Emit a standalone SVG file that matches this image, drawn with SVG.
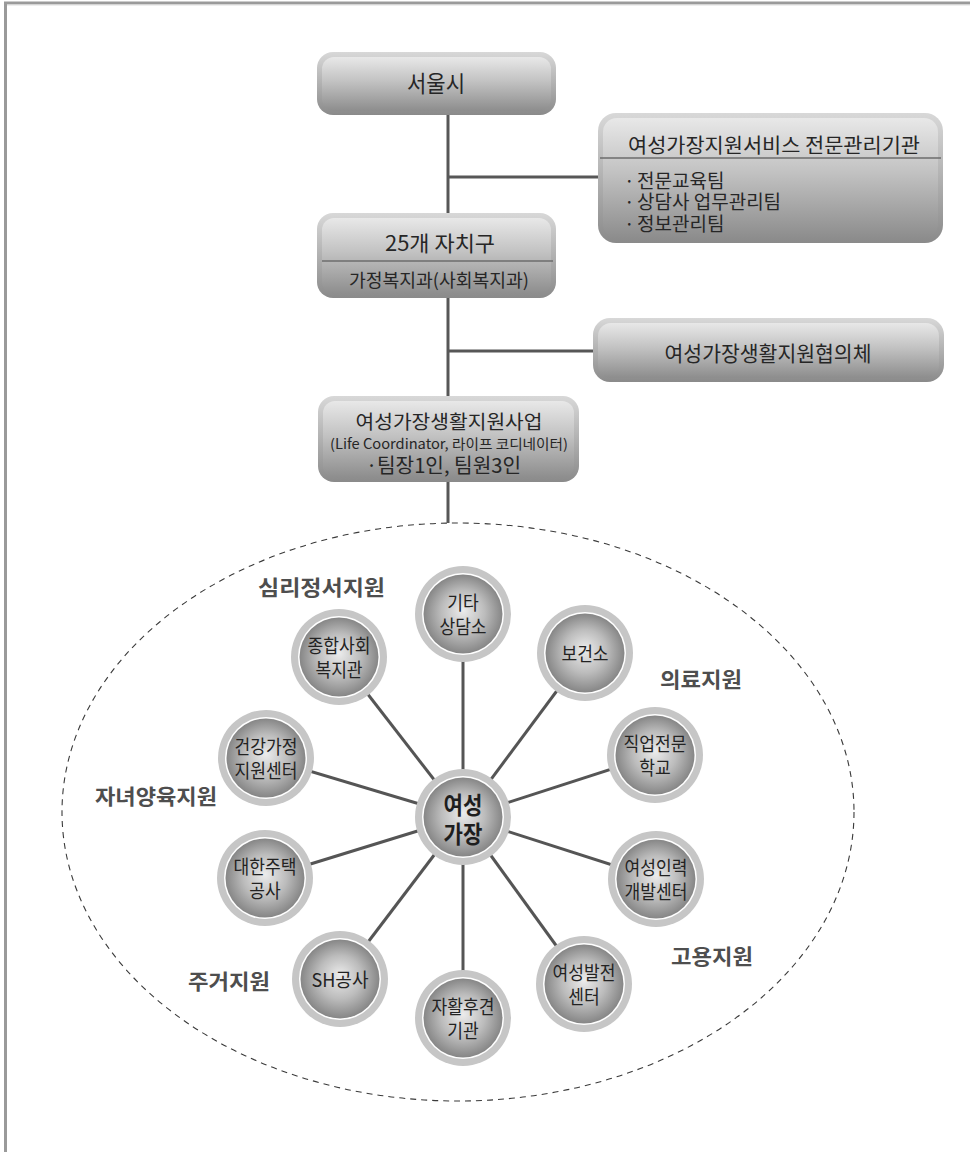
<svg xmlns="http://www.w3.org/2000/svg" xmlns:xlink="http://www.w3.org/1999/xlink" width="970" height="1152" viewBox="0 0 970 1152">
  <style>
    text { font-family: "Noto Sans CJK KR", "Noto Sans", sans-serif; fill: #262626; dominant-baseline: central; }
    .mid { text-anchor: middle; }
    .box-title { font-size: 21px; }
    .box-sub { font-size: 18px; }
    .bullet { font-size: 19px; }
    .node-label { font-size: 19px; text-anchor: middle; fill: #222; }
    .hub-label { font-size: 24px; font-weight: bold; text-anchor: middle; fill: #1e1e1e; }
    .category { font-size: 21px; font-weight: bold; fill: #4e4e4e; }
    .link { stroke: #575757; stroke-width: 3; fill: none; }
    .spoke { stroke: #555; stroke-width: 3; fill: none; }
    .divider { stroke: #6c6c6c; stroke-width: 1.5; }
    .frame { stroke: #9a9a9a; stroke-width: 3; fill: none; }
    .zone { fill: none; stroke: #3a3a3a; stroke-width: 1.1; stroke-dasharray: 6 5; }
  </style>
  <defs>
    <linearGradient id="boxOuter" x1="0" y1="0" x2="0" y2="1">
      <stop offset="0" stop-color="#d8d8d8"/>
      <stop offset="1" stop-color="#8a8a8a"/>
    </linearGradient>
    <linearGradient id="boxInner" x1="0" y1="0" x2="0" y2="1">
      <stop offset="0" stop-color="#e8e8e8"/>
      <stop offset="0.45" stop-color="#c2c2c2"/>
      <stop offset="1" stop-color="#8d8d8d"/>
    </linearGradient>
    <radialGradient id="discGrad" cx="0.5" cy="0.5" r="0.5" fx="0.5" fy="0.45">
      <stop offset="0" stop-color="#ececec"/>
      <stop offset="0.55" stop-color="#bcbcbc"/>
      <stop offset="1" stop-color="#868686"/>
    </radialGradient>
    <g id="disc">
      <circle r="48" fill="#c6c6c6"/>
      <circle r="41" fill="#ffffff"/>
      <circle r="39.5" fill="url(#discGrad)"/>
    </g>
  </defs>

  <!-- page frame: top and left rules only -->
  <path class="frame" d="M5.5 1152 V3 H970"/>
  <line x1="7" y1="5" x2="970" y2="5" stroke="#dddddd" stroke-width="1"/>

  <!-- dashed support zone -->
  <ellipse class="zone" cx="458" cy="812" rx="396" ry="289"/>

  <!-- connectors -->
  <g id="connectors">
    <line class="link" x1="448" y1="112" x2="448" y2="216"/>
    <line class="link" x1="448" y1="295" x2="448" y2="399"/>
    <line class="link" x1="448" y1="479" x2="448" y2="523"/>
    <line class="link" x1="448" y1="177" x2="600" y2="177"/>
    <line class="link" x1="448" y1="351" x2="595" y2="351"/>
    <line class="spoke" x1="463" y1="817" x2="463" y2="614"/>
    <line class="spoke" x1="463" y1="817" x2="585" y2="653"/>
    <line class="spoke" x1="463" y1="817" x2="655" y2="755"/>
    <line class="spoke" x1="463" y1="817" x2="656" y2="879"/>
    <line class="spoke" x1="463" y1="817" x2="584" y2="984"/>
    <line class="spoke" x1="463" y1="817" x2="463" y2="1018"/>
    <line class="spoke" x1="463" y1="817" x2="340" y2="979"/>
    <line class="spoke" x1="463" y1="817" x2="265" y2="878"/>
    <line class="spoke" x1="463" y1="817" x2="266" y2="758"/>
    <line class="spoke" x1="463" y1="817" x2="339" y2="657"/>
  </g>

  <!-- organisation boxes -->
  <g id="seoul">
    <rect x="317" y="52" width="239" height="63" rx="16" fill="url(#boxOuter)"/>
    <rect x="322" y="57" width="229" height="54" rx="12" fill="url(#boxInner)"/>
    <text class="mid" x="436" y="82" font-size="23" textLength="58" lengthAdjust="spacingAndGlyphs">서울시</text>
  </g>

  <g id="agency">
    <rect x="598" y="113" width="345" height="130" rx="18" fill="url(#boxOuter)"/>
    <rect x="603" y="118" width="335" height="120" rx="14" fill="url(#boxInner)"/>
    <text class="mid" x="774" y="144" font-size="20" textLength="292" lengthAdjust="spacingAndGlyphs">여성가장지원서비스 전문관리기관</text>
    <line class="divider" x1="600" y1="158" x2="941" y2="158"/>
    <text class="bullet"><tspan x="624" y="179">·</tspan><tspan x="637">전문교육팀</tspan><tspan x="624" y="200">·</tspan><tspan x="637">상담사 업무관리팀</tspan><tspan x="624" y="222">·</tspan><tspan x="637">정보관리팀</tspan></text>
  </g>

  <g id="districts">
    <rect x="317" y="213" width="239" height="85" rx="16" fill="url(#boxOuter)"/>
    <rect x="322" y="218" width="229" height="76" rx="12" fill="url(#boxInner)"/>
    <text class="mid box-title" x="440" y="242" textLength="110" lengthAdjust="spacingAndGlyphs">25개 자치구</text>
    <line class="divider" x1="322" y1="261" x2="553" y2="261"/>
    <text class="mid box-sub" x="439" y="279" textLength="180" lengthAdjust="spacingAndGlyphs">가정복지과(사회복지과)</text>
  </g>

  <g id="council">
    <rect x="593" y="318" width="351" height="64" rx="17" fill="url(#boxOuter)"/>
    <rect x="598" y="323" width="341" height="55" rx="13" fill="url(#boxInner)"/>
    <text class="mid box-title" x="768" y="352" textLength="207" lengthAdjust="spacingAndGlyphs">여성가장생활지원협의체</text>
  </g>

  <g id="program">
    <rect x="318" y="396" width="261" height="86" rx="16" fill="url(#boxOuter)"/>
    <rect x="323" y="401" width="251" height="77" rx="12" fill="url(#boxInner)"/>
    <text><tspan class="mid" x="449" y="420" font-size="19" textLength="187" lengthAdjust="spacingAndGlyphs">여성가장생활지원사업</tspan><tspan class="mid" x="449" y="443" font-size="14" textLength="238" lengthAdjust="spacingAndGlyphs">(Life Coordinator, 라이프 코디네이터)</tspan><tspan x="366" y="464" font-size="20">·</tspan><tspan x="377" font-size="20" textLength="144" lengthAdjust="spacingAndGlyphs">팀장1인, 팀원3인</tspan></text>
  </g>

  <!-- support network -->
  <g id="hub">
    <use xlink:href="#disc" x="463" y="817"/>
    <text class="hub-label" transform="translate(463 817) scale(0.88 1)"><tspan x="0" y="-14">여성</tspan><tspan x="0" y="15">가장</tspan></text>
  </g>
  <g id="counseling">
    <use xlink:href="#disc" x="463" y="614"/>
    <text class="node-label" transform="translate(463 614) scale(0.9 1)"><tspan x="0" y="-12">기타</tspan><tspan x="0" y="12">상담소</tspan></text>
  </g>
  <g id="health-center">
    <use xlink:href="#disc" x="585" y="653"/>
    <text class="node-label" transform="translate(585 653) scale(0.9 1)" x="0" y="0">보건소</text>
  </g>
  <g id="vocational-school">
    <use xlink:href="#disc" x="655" y="755"/>
    <text class="node-label" transform="translate(655 755) scale(0.9 1)"><tspan x="0" y="-12">직업전문</tspan><tspan x="0" y="12">학교</tspan></text>
  </g>
  <g id="women-resources">
    <use xlink:href="#disc" x="656" y="879"/>
    <text class="node-label" transform="translate(656 879) scale(0.9 1)"><tspan x="0" y="-12">여성인력</tspan><tspan x="0" y="12">개발센터</tspan></text>
  </g>
  <g id="women-development">
    <use xlink:href="#disc" x="584" y="984"/>
    <text class="node-label" transform="translate(584 984) scale(0.9 1)"><tspan x="0" y="-12">여성발전</tspan><tspan x="0" y="12">센터</tspan></text>
  </g>
  <g id="self-support">
    <use xlink:href="#disc" x="463" y="1018"/>
    <text class="node-label" transform="translate(463 1018) scale(0.9 1)"><tspan x="0" y="-12">자활후견</tspan><tspan x="0" y="12">기관</tspan></text>
  </g>
  <g id="sh-corp">
    <use xlink:href="#disc" x="340" y="979"/>
    <text class="node-label" transform="translate(340 979) scale(0.95 1)" x="0" y="0">SH공사</text>
  </g>
  <g id="korea-housing">
    <use xlink:href="#disc" x="265" y="878"/>
    <text class="node-label" transform="translate(265 878) scale(0.9 1)"><tspan x="0" y="-12">대한주택</tspan><tspan x="0" y="12">공사</tspan></text>
  </g>
  <g id="family-center">
    <use xlink:href="#disc" x="266" y="758"/>
    <text class="node-label" transform="translate(266 758) scale(0.9 1)"><tspan x="0" y="-12">건강가정</tspan><tspan x="0" y="12">지원센터</tspan></text>
  </g>
  <g id="welfare-center">
    <use xlink:href="#disc" x="339" y="657"/>
    <text class="node-label" transform="translate(339 657) scale(0.9 1)"><tspan x="0" y="-12">종합사회</tspan><tspan x="0" y="12">복지관</tspan></text>
  </g>

  <!-- support categories -->
  <g id="categories">
    <text class="category" x="258" y="586" textLength="127" lengthAdjust="spacingAndGlyphs">심리정서지원</text>
    <text class="category" x="660" y="678" textLength="82" lengthAdjust="spacingAndGlyphs">의료지원</text>
    <text class="category" x="95" y="795" textLength="122" lengthAdjust="spacingAndGlyphs">자녀양육지원</text>
    <text class="category" x="188" y="980" textLength="82" lengthAdjust="spacingAndGlyphs">주거지원</text>
    <text class="category" x="671" y="955" textLength="82" lengthAdjust="spacingAndGlyphs">고용지원</text>
  </g>
</svg>
